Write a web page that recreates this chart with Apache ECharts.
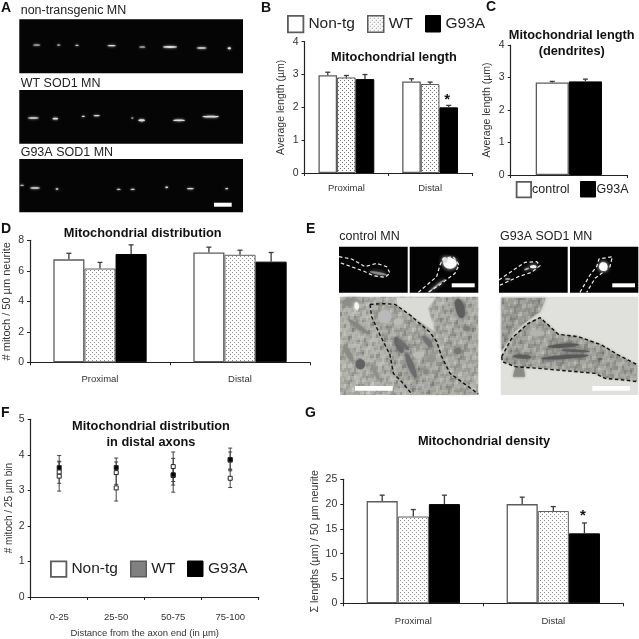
<!DOCTYPE html>
<html>
<head>
<meta charset="utf-8">
<style>html,body{margin:0;padding:0;background:#fff}#c{width:639px;height:639px}</style>
<script src="https://cdn.jsdelivr.net/npm/echarts@6/dist/echarts.min.js"></script>
</head>
<body>
<div id="c"></div>
<script>
// ---------- data ----------
const groupCats = ['Proximal', 'Distal'];
const binCats = ['0-25', '25-50', '50-75', '75-100'];
// B: mitochondrial length
const lenNonTg = [2.98, 2.79], lenWT = [2.91, 2.71], lenG93A = [2.86, 2.0];
const lenNonTgTop = [3.07, 2.87], lenWTTop = [2.97, 2.77], lenG93ATop = [3.0, 2.06];
// C: dendrites
const dendCats = ['dendrites'];
const dendControl = [2.85], dendG93A = [2.88];
const dendControlTop = [2.88], dendG93ATop = [2.95];
// D: distribution
const distNonTg = [6.75, 7.2], distWT = [6.15, 7.05], distG93A = [7.1, 6.6];
const distNonTgTop = [7.15, 7.55], distWTTop = [6.55, 7.35], distG93ATop = [7.7, 7.2];
// F: distal axons
const axNonTg = [3.40, 3.07, 3.67, 3.34], axNonTgLow = [2.98, 2.70, 3.25, 3.08], axNonTgHigh = [3.82, 3.45, 4.08, 3.58];
const axWT = [3.52, 3.50, 3.42, 3.85], axWTLow = [3.20, 3.17, 3.15, 3.60], axWTHigh = [3.98, 3.91, 3.70, 4.08];
const axG93A = [3.64, 3.64, 3.44, 3.87], axG93ALow = [3.40, 3.48, 2.95, 3.55], axG93AHigh = [3.80, 3.80, 3.90, 4.19];
// G: density
const denNonTg = [20.6, 20.0], denWT = [17.5, 18.6], denG93A = [20.0, 14.1];
const denNonTgTop = [21.8, 21.4], denWTTop = [18.9, 19.5], denG93ATop = [21.8, 16.2];

// ---------- helpers ----------
const FONT = '"Liberation Sans", Arial, sans-serif';
const EDGE = '#5c5c5c';
function dotTile(pitch, dot) {
  const c = document.createElement('canvas');
  c.width = c.height = pitch * 2;
  const g = c.getContext('2d');
  g.fillStyle = '#fff'; g.fillRect(0, 0, c.width, c.height);
  g.fillStyle = dot;
  g.fillRect(0, 0, 1, 1); g.fillRect(pitch, pitch, 1, 1);
  return { image: c, repeat: 'repeat' };
}
function grainTile() {
  const size = 120, c = document.createElement('canvas');
  c.width = c.height = size;
  const g = c.getContext('2d');
  const waves = [[7, 3], [3, -11], [13, 5], [17, -7], [5, 19], [23, 11]];
  for (let y = 0; y < size; y += 2) for (let x = 0; x < size; x += 2) {
    let v = 0;
    waves.forEach(w => { v += Math.sin(2 * Math.PI * (w[0] * x + w[1] * y) / size); });
    v /= 3;
    g.fillStyle = v > 0 ? 'rgba(255,255,255,' + (v * .2).toFixed(3) + ')' : 'rgba(0,0,0,' + (-v * .17).toFixed(3) + ')';
    g.fillRect(x, y, 2, 2);
  }
  return { image: c, repeat: 'repeat' };
}
const dotsB = dotTile(2, '#777');
const dotsD = dotTile(2, '#8a8a8a');
const grain = grainTile();

const grids = [], xAxes = [], yAxes = [], series = [], titles = [], legends = [];
function axisLineStyle() { return { lineStyle: { color: '#222', width: 1.2 } }; }
function addPanel(o) {
  const i = grids.length;
  grids.push({ left: o.x0, top: o.yTop, width: o.x1 - o.x0, height: o.yBot - o.yTop });
  xAxes.push({
    gridIndex: i, type: 'category', data: o.cats,
    axisLine: axisLineStyle(), axisTick: { show: true, length: 3, lineStyle: { color: '#222', width: 1 } },
    axisLabel: { color: '#333', fontSize: 9.5, fontFamily: FONT, margin: o.labelMargin, interval: 0 },
    name: o.xName || '', nameLocation: 'middle', nameGap: o.xNameGap || 0,
    nameTextStyle: { color: '#333', fontSize: 9.5, fontFamily: FONT }
  });
  yAxes.push({
    gridIndex: i, type: 'value', min: 0, max: o.max, interval: o.step,
    axisLine: { show: true, ...axisLineStyle() }, axisTick: { show: true, length: 3, lineStyle: { color: '#222', width: 1 } },
    splitLine: { show: false },
    axisLabel: { color: '#333', fontSize: 10.5, fontFamily: FONT, margin: 6 },
    name: o.yName, nameLocation: 'middle', nameRotate: 90, nameGap: o.yNameGap,
    nameTextStyle: { color: '#333', fontSize: o.yNameSize, fontFamily: FONT }
  });
  return i;
}
function addBars(i, names, values, tops, styles, gapRatio) {
  names.forEach((name, k) => {
    series.push({
      type: 'bar', name, xAxisIndex: i, yAxisIndex: i, data: values[k],
      barGap: 0, barCategoryGap: (gapRatio * 100) + '%', z: 2,
      itemStyle: styles[k]
    });
  });
  const n = names.length;
  names.forEach((name, k) => {
    series.push({
      type: 'custom', name: 'err-' + i + '-' + k, xAxisIndex: i, yAxisIndex: i, z: 3, silent: true,
      data: values[k].map((v, c) => [c, v, tops[k][c]]),
      renderItem(params, api) {
        const band = api.size([1, 0])[0];
        const w = band * (1 - gapRatio) / n;
        const dx = (k - (n - 1) / 2) * w;
        const a = api.coord([api.value(0), api.value(1)]);
        const b = api.coord([api.value(0), api.value(2)]);
        const x = a[0] + dx;
        const st = { stroke: '#3a3a3a', lineWidth: 1.3, fill: null };
        return { type: 'group', children: [
          { type: 'line', shape: { x1: x, y1: a[1], x2: x, y2: b[1] }, style: st },
          { type: 'line', shape: { x1: x - 2.5, y1: b[1], x2: x + 2.5, y2: b[1] }, style: st }
        ] };
      }
    });
  });
}
function addStar(i, catIndex, barIndex, n, gapRatio, value) {
  series.push({
    type: 'custom', name: 'star-' + i, xAxisIndex: i, yAxisIndex: i, z: 4, silent: true,
    data: [[catIndex, value]],
    renderItem(params, api) {
      const band = api.size([1, 0])[0];
      const w = band * (1 - gapRatio) / n;
      const p = api.coord([api.value(0), api.value(1)]);
      return { type: 'text', style: {
        text: '*', x: p[0] + (barIndex - (n - 1) / 2) * w - 1.5, y: p[1],
        align: 'center', verticalAlign: 'middle', fill: '#111', font: 'bold 15px ' + FONT
      } };
    }
  });
}
function addTitle(text, x, y) {
  titles.push({
    text, left: x, top: y, textAlign: 'center',
    textStyle: { color: '#111', fontSize: 12.8, fontWeight: 'bold', fontFamily: FONT, lineHeight: 15.5 }
  });
}
function addLegend(name, x, y, w, h, fontSize, item, shift) {
  legends.push({
    left: x, top: y, padding: 0, itemWidth: w, itemHeight: h, icon: 'rect', selectedMode: false,
    data: [name], itemStyle: item,
    textStyle: { color: '#222', fontSize, fontFamily: FONT, padding: shift ? [0, 0, 0, shift] : 0 }
  });
}

const whiteBar = { color: '#fff', borderColor: EDGE, borderWidth: 1.3 };
const blackBar = { color: '#000', borderColor: '#000', borderWidth: 1 };
const dotBarB = { color: dotsB, borderColor: EDGE, borderWidth: 1 };
const dotBarD = { color: dotsD, borderColor: EDGE, borderWidth: 1 };
const NAMES = ['Non-tg', 'WT', 'G93A'];

// B
const gB = addPanel({ x0: 304.5, x1: 472, yTop: 41.7, yBot: 173, cats: groupCats, max: 4, step: 1,
  yName: 'Average length (\u00b5m)', yNameGap: 18, labelMargin: 10, yNameSize: 10.5 });
addBars(gB, NAMES, [lenNonTg, lenWT, lenG93A], [lenNonTgTop, lenWTTop, lenG93ATop], [whiteBar, dotBarB, blackBar], 1 / 3);
addStar(gB, 1, 2, 3, 1 / 3, 2.22);
addTitle('Mitochondrial length', 389, 45);
// C
const gC = addPanel({ x0: 510.7, x1: 627, yTop: 45, yBot: 175, cats: dendCats, max: 4, step: 1,
  yName: 'Average length (\u00b5m)', yNameGap: 18, labelMargin: 10, yNameSize: 10.5 });
xAxes[gC].axisLabel.show = false;
addBars(gC, ['control', 'G93A'], [dendControl, dendG93A], [dendControlTop, dendG93ATop], [whiteBar, blackBar], 0.43);
addTitle('Mitochondrial length\n(dendrites)', 566.7, 23);
// D
const gD = addPanel({ x0: 29.3, x1: 310, yTop: 240.3, yBot: 362.3, cats: groupCats, max: 8, step: 2,
  yName: '# mitoch / 50 \u00b5m neurite', yNameGap: 18, labelMargin: 12, yNameSize: 11 });
addBars(gD, NAMES, [distNonTg, distWT, distG93A], [distNonTgTop, distWTTop, distG93ATop], [whiteBar, dotBarD, blackBar], 1 / 3);
addTitle('Mitochondrial distribution', 137.7, 221);
// F
const gF = addPanel({ x0: 30.7, x1: 258.7, yTop: 419.3, yBot: 602.3, cats: binCats, max: 5, step: 1,
  yName: '# mitoch / 25 \u00b5m bin', yNameGap: 16, labelMargin: 15, yNameSize: 10,
  xName: 'Distance from the axon end (in \u00b5m)', xNameGap: 31 });
addTitle('Mitochondrial distribution\nin distal axons', 146, 414);
const axSets = [
  ['Non-tg', axNonTg, axNonTgLow, axNonTgHigh, '#fff'],
  ['WT', axWT, axWTLow, axWTHigh, '#fff'],
  ['G93A', axG93A, axG93ALow, axG93AHigh, '#000']
];
axSets.forEach(([name, v, lo, hi]) => {
  series.push({
    type: 'custom', name: 'err-F-' + name, xAxisIndex: gF, yAxisIndex: gF, z: 2, silent: true,
    data: v.map((_, c) => [c, lo[c], hi[c]]),
    renderItem(params, api) {
      const a = api.coord([api.value(0), api.value(1)]);
      const b = api.coord([api.value(0), api.value(2)]);
      const st = { stroke: '#444', lineWidth: 1, fill: null };
      return { type: 'group', children: [
        { type: 'line', shape: { x1: a[0], y1: a[1], x2: b[0], y2: b[1] }, style: st },
        { type: 'line', shape: { x1: a[0] - 2, y1: a[1], x2: a[0] + 2, y2: a[1] }, style: st },
        { type: 'line', shape: { x1: b[0] - 2, y1: b[1], x2: b[0] + 2, y2: b[1] }, style: st }
      ] };
    }
  });
});
axSets.forEach(([name, v, , , fill]) => {
  series.push({
    type: 'scatter', name, xAxisIndex: gF, yAxisIndex: gF, z: 3, symbol: 'rect', symbolSize: 4,
    data: v.map((y, c) => [c, y]),
    itemStyle: { color: fill, borderColor: '#222', borderWidth: 1, opacity: 1 }
  });
});
// G
const gG = addPanel({ x0: 343.3, x1: 623.3, yTop: 479.3, yBot: 603.3, cats: groupCats, max: 25, step: 5,
  yName: '\u03a3 lengths (\u00b5m) / 50 \u00b5m neurite', yNameGap: 23, labelMargin: 13, yNameSize: 10.6 });
addBars(gG, NAMES, [denNonTg, denWT, denG93A], [denNonTgTop, denWTTop, denG93ATop], [whiteBar, dotBarD, blackBar], 1 / 3);
addStar(gG, 1, 2, 3, 1 / 3, 17.6);
addTitle('Mitochondrial density', 479, 429);

// legends
const lkW = { color: '#fff', borderColor: EDGE, borderWidth: 1.8 };
const lkD = { color: dotsB, borderColor: EDGE, borderWidth: 1.5 };
const lkB = { color: '#000', borderColor: '#000', borderWidth: 1 };
const lkG = { color: '#808080', borderColor: EDGE, borderWidth: 1.5 };
addLegend('Non-tg', 287, 15, 15.5, 16.5, 15.5, lkW);
addLegend('WT', 367, 15, 16, 16.5, 15.5, lkD);
addLegend('G93A', 425, 15, 15, 16.5, 15.5, lkB);
addLegend('control', 515.7, 181, 14.5, 15.5, 12.5, lkW, -4);
addLegend('G93A', 580, 181, 15, 15.5, 12.5, lkB, -4);
addLegend('Non-tg', 50, 560.5, 15.5, 15.5, 15.5, lkW);
addLegend('WT', 130, 560.5, 15.5, 15.5, 15.5, { ...lkG });
addLegend('G93A', 187, 560.5, 15.5, 15.5, 15.5, lkB);

// ---------- micrograph panels and labels (non-data decoration) ----------
const gfx = [];
const P = (ox, oy, pts) => pts.map(p => [ox + p[0] / 3, oy + p[1] / 3]);
function rect(x0, y0, x1, y1, fill) {
  gfx.push({ type: 'rect', silent: true, shape: { x: x0, y: y0, width: x1 - x0, height: y1 - y0 }, style: { fill } });
}
function label(text, x, y, font, fill) {
  gfx.push({ type: 'text', silent: true, style: { text, x, y, font, fill: fill || '#222', verticalAlign: 'middle' } });
}
function blob(ox, oy, b) {
  const [cx, cy, rx, ry, deg, fill, blur] = b;
  gfx.push({
    type: 'ellipse', silent: true, x: ox + cx / 3, y: oy + cy / 3, rotation: -(deg || 0) * Math.PI / 180,
    shape: { cx: 0, cy: 0, rx: rx / 3, ry: ry / 3 },
    style: { fill, shadowBlur: blur === undefined ? 4 : blur, shadowColor: fill }
  });
}
function poly(ox, oy, pts, fill, textured) {
  const points = P(ox, oy, pts);
  gfx.push({ type: 'polygon', silent: true, shape: { points }, style: { fill, shadowBlur: 3, shadowColor: fill } });
  if (textured) gfx.push({ type: 'polygon', silent: true, shape: { points }, style: { fill: grain } });
}
function dashed(ox, oy, pts, stroke, w) {
  gfx.push({ type: 'polyline', silent: true, shape: { points: P(ox, oy, pts) },
    style: { stroke, lineWidth: w || 1.2, lineDash: [3.5, 2.5], fill: null } });
}

// A
rect(19.3, 19.3, 243, 73.3, '#050505');
rect(19.3, 90, 243, 143.7, '#050505');
rect(19.3, 159, 243, 212.3, '#050505');
const spotsA = [
  [110,135,13,2.5],[176,135,6,2.5],[231,136,6,2.5],[335,137,15,3],[427,141,11,2.5],[510,141,25,4],[605,144,18,3],[688,145,6,5],
  [100,354,20,3.5],[166,356,10,4],[250,349,6,3],[290,347,11,2.5],[397,354,4,2.5],[425,361,12,5],[537,361,22,4],[632,350,29,3.5],
  [66,556,7,2],[105,564,18,3],[171,567,5,3],[356,568,7,2.5],[398,568,8,2.5],[500,562,5,4],[571,566,12,2.5],[680,566,5,2.5]
];
spotsA.forEach(s => blob(0, 0, [s[0], s[1], s[2] * .85, s[3] * .7, 0, '#dcdcdc', 2.5]));
rect(214, 202.7, 231.7, 206.7, '#fff');
label('non-transgenic MN', 20.7, 11, '12.5px ' + FONT);
label('WT SOD1 MN', 20.7, 84, '12.5px ' + FONT);
label('G93A SOD1 MN', 20.7, 152.7, '12.5px ' + FONT);

// E, left column (origin 335,245)
const L = [335, 245], R = [495, 245];
rect(339, 246.7, 407.7, 292.7, '#030303');
rect(409.7, 246.7, 478.3, 292.7, '#030303');
[[130,85,26,4,10,'#888'],[345,55,20,16,0,'#fff'],[330,45,8,8,0,'#ddd'],[305,122,32,3,-38,'#8a8a8a']].forEach(b => blob(L[0], L[1], b));
dashed(L[0], L[1], [[12,35],[50,42],[90,65],[125,55],[155,65],[165,85],[150,97],[115,92],[85,78],[12,52]], '#eee', 1.2);
dashed(L[0], L[1], [[250,142],[305,95],[315,60],[325,40],[355,35],[372,60],[360,85],[320,115],[280,142]], '#eee', 1.2);
rect(451.7, 283.3, 474.7, 287.3, '#fff');
rect(340, 296.7, 478.3, 395, '#b0b0aa');
rect(340, 296.7, 478.3, 395, grain);
poly(L[0], L[1], [[184,158],[300,158],[278,190],[298,258],[250,225],[188,180]], '#dadad6');
poly(L[0], L[1], [[108,180],[180,180],[285,262],[320,335],[345,385],[400,425],[422,446],[232,446],[172,385],[135,270]], '#a6a6a0', true);
poly(L[0], L[1], [[300,185],[420,165],[425,300],[400,400],[350,370],[320,300],[305,260]], '#a8a8a2', true);
[[50,172,28,12,0,'#8c8c88'],[65,183,7,12,-8,'#f6f6f2'],[70,245,36,7,35,'#878781'],[40,325,28,8,60,'#8c8c86'],
 [120,380,28,6,65,'#90908a'],[76,358,14,15,0,'#626263',2],[150,215,20,18,0,'#bababa'],[190,230,14,10,0,'#bcbcb6'],[250,330,16,10,0,'#bcbcb6'],[290,340,12,12,0,'#959590'],
 [192,300,26,10,65,'#666666'],[205,300,22,7,40,'#6e6e6e'],[228,362,40,9,68,'#6c6c6c'],[278,290,22,8,50,'#737373'],
 [375,190,30,13,75,'#5e5e5e'],[395,250,11,8,0,'#7e7e7c'],[368,318,12,10,0,'#777772'],[272,380,8,8,0,'#888882']
].forEach(b => blob(L[0], L[1], b));
dashed(L[0], L[1], [[105,178],[150,176],[180,178],[225,210],[285,262],[305,290],[320,335],[345,385],[400,425],[430,447]], '#111', 1.4);
dashed(L[0], L[1], [[105,178],[110,215],[135,270],[165,330],[175,385],[200,410],[230,447]], '#111', 1.4);
rect(355, 386, 392.7, 390.7, '#fff');
label('control MN', 339.3, 236.7, '12.5px ' + FONT);

// E, right column (origin 495,245)
rect(499, 246.7, 567.7, 292.7, '#030303');
rect(570, 246.7, 638.3, 292.7, '#030303');
[[115,65,10,5,0,'#f4f4f4'],[95,72,8,3,-20,'#aaa'],[38,102,8,3,0,'#999'],[325,65,13,13,0,'#fff']].forEach(b => blob(R[0], R[1], b));
dashed(R[0], R[1], [[12,105],[60,72],[90,52],[125,50],[135,62],[110,82],[70,95],[12,122]], '#eee', 1.2);
dashed(R[0], R[1], [[255,142],[285,90],[305,65],[312,42],[352,35],[345,65],[320,85],[300,100],[275,142]], '#eee', 1.2);
rect(612.3, 283.3, 635, 287.3, '#fff');
rect(500.7, 296.7, 638.3, 395, '#e0e0dc');
poly(R[0], R[1], [[20,159],[152,159],[135,200],[100,225],[60,258],[20,318]], '#9c9c96', true);
poly(R[0], R[1], [[22,335],[50,280],[100,235],[135,218],[160,240],[190,268],[250,275],[320,300],[370,330],[426,360],[426,408],[385,403],[330,398],[300,383],[220,376],[130,368],[60,363],[24,348]], '#a2a29c', true);
poly(R[0], R[1], [[62,364],[85,366],[90,395],[54,395]], '#8a8a84');
[[205,302,48,6,-4,'#585858'],[240,317,43,4,3,'#5e5e5e'],[210,336,72,6,-4,'#585858'],[82,335,28,6,3,'#5c5c5c'],[315,342,8,4,0,'#686868'],[125,265,22,9,0,'#b4b4ae']].forEach(b => blob(R[0], R[1], b));
dashed(R[0], R[1], [[20,335],[50,280],[100,235],[135,218],[160,240],[190,268],[250,275],[320,300],[370,330],[428,360]], '#111', 1.4);
dashed(R[0], R[1], [[20,335],[22,350],[60,365],[130,370],[220,378],[300,385],[330,400],[385,405],[428,410]], '#111', 1.4);
rect(592.3, 386, 630, 390.7, '#fff');
label('G93A SOD1 MN', 500, 236.7, '12.5px ' + FONT);

// panel letters
[['A',1,8],['B',261,8],['C',486,7],['D',1,229],['E',306,229],['F',1,413],['G',305,413]].forEach(
  ([t, x, y]) => label(t, x, y, 'bold 14px ' + FONT, '#111'));

// ---------- chart ----------
const chart = echarts.init(document.getElementById('c'), null, { renderer: 'canvas' });
chart.setOption({
  animation: false, backgroundColor: '#fff',
  title: titles, legend: legends, grid: grids, xAxis: xAxes, yAxis: yAxes, series,
  graphic: { elements: gfx }
});
</script>
</body>
</html>
